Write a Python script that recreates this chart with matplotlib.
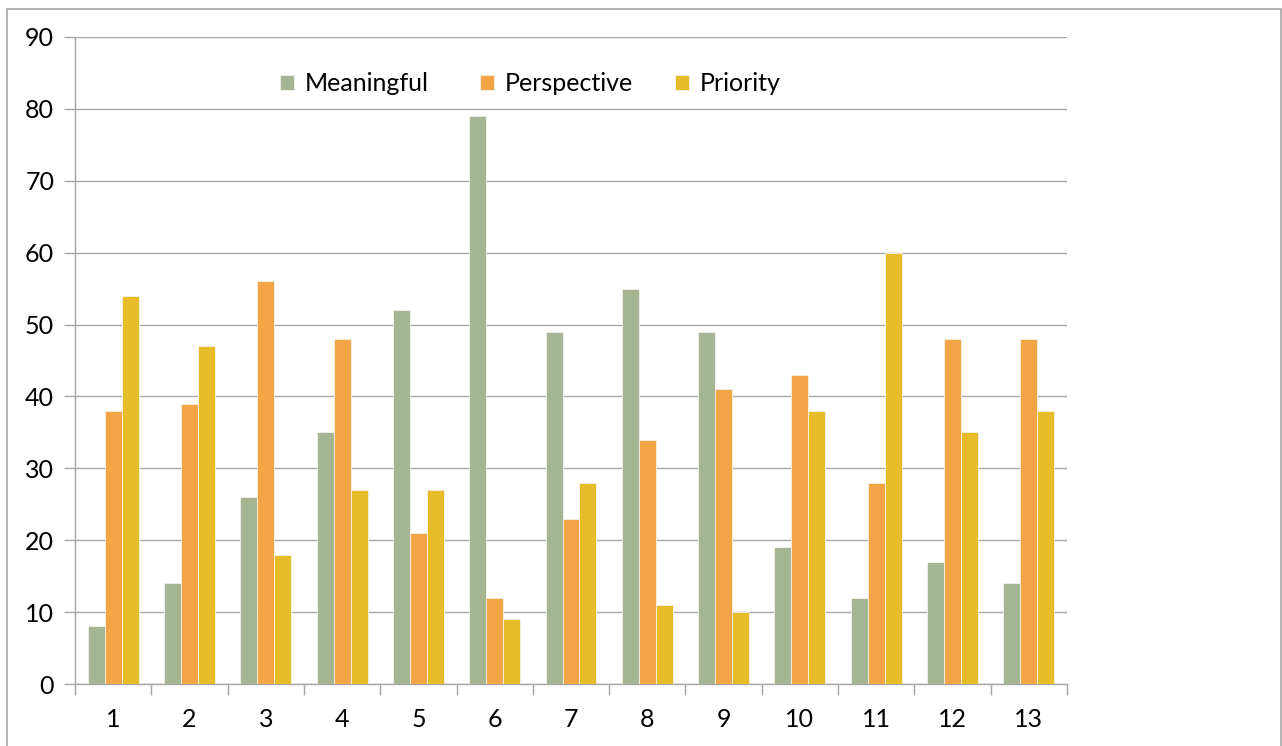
import matplotlib
matplotlib.use("Agg")
import matplotlib.pyplot as plt
import numpy as np
from matplotlib.patches import Rectangle

categories = ["1", "2", "3", "4", "5", "6", "7", "8", "9", "10", "11", "12", "13"]
series_names = ["Meaningful", "Perspective", "Priority"]
meaningful = [8, 14, 26, 35, 52, 79, 49, 55, 49, 19, 12, 17, 14]
perspective = [38, 39, 56, 48, 21, 12, 23, 34, 41, 43, 28, 48, 48]
priority = [54, 47, 18, 27, 27, 9, 28, 11, 10, 38, 60, 35, 38]
colors = ["#A5B592", "#F3A447", "#E7BC29"]
y_ticks = list(range(0, 91, 10))

plt.rcParams["font.family"] = ["Lato", "DejaVu Sans"]
FS = 18

W, H = 1282, 746
fig = plt.figure(figsize=(W / 100, H / 100), dpi=100)
fig.patch.set_facecolor("white")

# outer chart frame
fig.add_artist(Rectangle((6.5 / W, -0.01), (1281 - 6.5) / W, (H - 8.5) / H + 0.01,
                         transform=fig.transFigure, fill=False,
                         edgecolor="#A6A6A6", linewidth=1.2))

ax = fig.add_axes([75 / W, (H - 684) / H, (1067 - 75) / W, (684 - 37) / H])

n = len(categories)
x = np.arange(n)
bar_w = 1 / 4.5
bars = []
for i, (vals, name) in enumerate(zip([meaningful, perspective, priority], series_names)):
    b = ax.bar(x + (i - 1) * bar_w, vals, width=bar_w, color=colors[i], label=name,
               edgecolor="#F5F2EA", linewidth=0.6, zorder=3)
    bars.append(b)

ax.set_xlim(-0.5, n - 0.5)
ax.set_ylim(0, 90)
ax.set_yticks(y_ticks)
ax.set_yticklabels([str(t) for t in y_ticks])
ax.yaxis.grid(True, color="#A6A6A6", linewidth=1.0, zorder=0)
ax.set_axisbelow(True)

ax.set_xticks(x)
ax.set_xticklabels(categories)
ax.set_xticks(np.arange(-0.5, n, 1), minor=True)
ax.tick_params(axis="x", which="major", length=0, pad=17, labelsize=FS)
ax.tick_params(axis="x", which="minor", length=8, color="#A6A6A6", width=1.0)
ax.tick_params(axis="y", length=8, color="#A6A6A6", width=1.0, pad=7, labelsize=FS)

for s in ["top", "right"]:
    ax.spines[s].set_visible(False)
for s in ["left", "bottom"]:
    ax.spines[s].set_color("#A6A6A6")
    ax.spines[s].set_linewidth(1.0)

# legend entries placed individually across the top of the plot
legend_x = [280, 480, 675]
for k, (b, name, lx) in enumerate(zip(bars, series_names, legend_x)):
    lg = ax.legend([b], [name], loc="center left",
                   bbox_to_anchor=((lx - 75) / 992, 1 - 47 / 647),
                   frameon=False, fontsize=FS, handlelength=0.55, handleheight=0.55,
                   handletextpad=0.45, borderaxespad=0, borderpad=0)
    if k < len(bars) - 1:
        ax.add_artist(lg)

fig.savefig("out.png", dpi=100)
